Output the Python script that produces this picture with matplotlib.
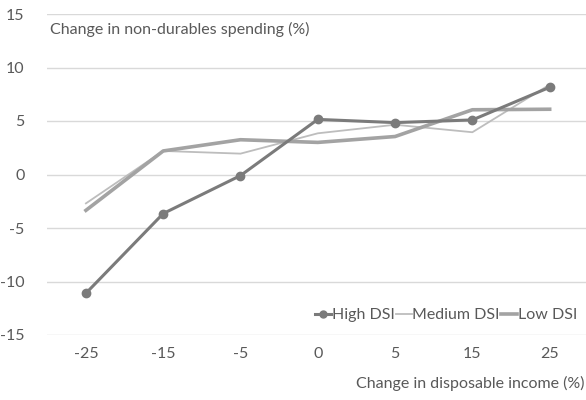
import numpy as np
import matplotlib.pyplot as plt
from matplotlib.lines import Line2D

plt.rcParams['font.family'] = ['Lato', 'DejaVu Sans']
plt.rcParams['axes.unicode_minus'] = False

income = ['-25', '-15', '-5', '0', '5', '15', '25']
high_dsi = [-11.1, -3.65, -0.1, 5.15, 4.85, 5.1, 8.15]
medium_dsi = [-2.7, 2.2, 1.95, 3.85, 4.65, 3.95, 8.4]
low_dsi = [-3.35, 2.2, 3.25, 3.0, 3.55, 6.05, 6.1]

grey_txt = '#595959'
fs = 11.5

fig = plt.figure(figsize=(5.86, 4.0), dpi=100)
ax = fig.add_axes([0.080, 0.1625, 0.92, 0.8025])

x = np.arange(len(income))
ax.plot(x, medium_dsi, color='#bdbdbd', lw=1.3, zorder=3)
ax.plot(x, low_dsi, color='#a3a3a3', lw=2.6, zorder=4)
ax.plot(x, high_dsi, color='#7b7b7b', lw=2.2, marker='o', ms=6, zorder=5)

ax.set_xlim(-0.505, 6.47)
ax.set_ylim(-15, 15)
ax.set_yticks(np.arange(-15, 16, 5))
ax.set_xticks(x)
ax.set_xticklabels(income)
ax.grid(axis='y', color='#d9d9d9', lw=1)
ax.set_axisbelow(True)
for s in ax.spines.values():
    s.set_visible(False)
ax.tick_params(length=0, labelsize=fs, colors=grey_txt)
ax.tick_params(axis='y', pad=16)
ax.tick_params(axis='x', pad=9)

fig.text(50 / 586, 1 - 29 / 400, 'Change in non-durables spending (%)',
         fontsize=fs, color=grey_txt, va='center', ha='left')
fig.text(0.998, 0.042, 'Change in disposable income (%)', fontsize=fs,
         color=grey_txt, ha='right', va='center')

handles = [Line2D([], [], color='#7b7b7b', lw=2.2, marker='o', ms=5),
           Line2D([], [], color='#bdbdbd', lw=1.3),
           Line2D([], [], color='#a3a3a3', lw=2.6)]
leg = ax.legend(handles, ['High DSI', 'Medium DSI', 'Low DSI'], ncol=3,
                loc='lower right', bbox_to_anchor=(0.995, 0.02), frameon=False,
                fontsize=fs, handlelength=1.0, handletextpad=0.05,
                columnspacing=0.05, borderaxespad=0.0)
for t in leg.get_texts():
    t.set_color(grey_txt)

fig.savefig('out.png', dpi=100)
